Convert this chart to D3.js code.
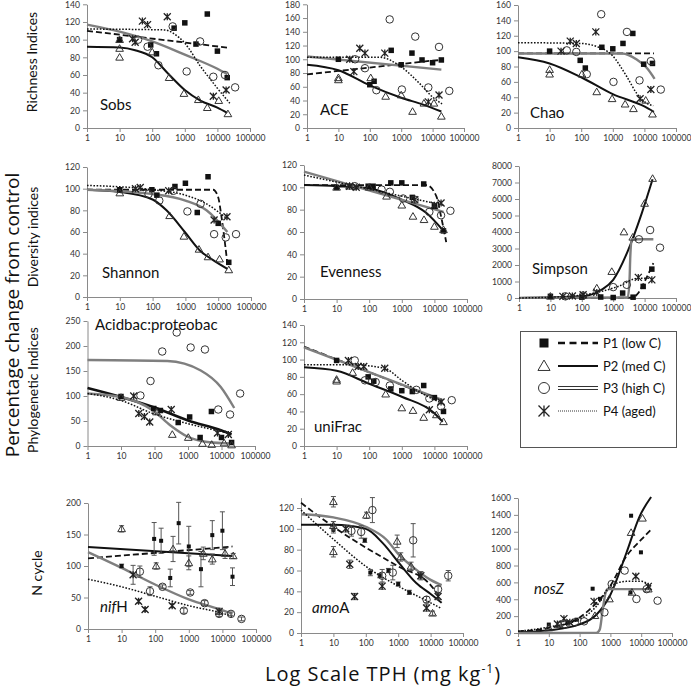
<!DOCTYPE html>
<html><head><meta charset="utf-8">
<script src="https://cdn.jsdelivr.net/npm/d3@7"></script>
<style>body{margin:0;background:#fff}svg{display:block}</style>
</head><body><svg id="c" width="691" height="692"></svg>
<script>
// ---------- shared axis data ----------
const xTicks = [1, 10, 100, 1000, 10000, 100000];
const xTickLabels = ["1", "10", "100", "1000", "10000", "100000"];
const seriesNames = ["P1 (low C)", "P2 (med C)", "P3 (high C)", "P4 (aged)"];
const rowLabels = ["Richness Indices", "Diversity indices", "Phylogenetic Indices", "N cycle"];

// ---------- Sobs ----------
const sobsP1 = [[10,100],[90,94],[135,84],[470,113],[1000,119],[2200,95],[4900,129],[10000,87],[20000,57]];
const sobsP2 = [[10,100],[10,90],[10,80],[100,86],[330,57],[940,39],[2600,32],[4900,23],[11000,31],[21000,16]];
const sobsP3 = [[37,100],[72,92],[155,71],[425,115],[1140,64],[2940,98],[7500,58],[17000,60],[35000,46]];
const sobsP4 = [[25,101],[30,97],[50,121],[72,117],[290,126],[7500,36],[18500,43]];
const sobsF1 = [[1,110],[20000,91]];
const sobsF2 = [[1,92],[10,91],[30,88],[100,80],[300,62],[1000,43],[3000,31],[10000,23],[20000,17]];
const sobsF3 = [[1,117],[10,109],[100,98],[1000,83],[10000,67],[20000,61]];
const sobsF4 = [[1,112],[250,111],[450,107],[1000,96],[3000,70],[10000,45],[24000,28]];

// ---------- ACE ----------
const aceP1 = [[10,100],[100,63],[137,68],[480,113],[1000,92],[2200,109],[4600,99],[10000,95],[19000,99]];
const aceP2 = [[10,73],[10,70],[107,73],[320,46],[1000,48],[2300,24],[5300,36],[11000,36],[19000,17]];
const aceP3 = [[34,100],[70,87],[162,55],[430,158],[1050,56],[2800,133],[7300,59],[16000,118],[34000,54]];
const aceP4 = [[23,100],[31,82],[48,116],[70,109],[300,109],[7300,38],[16000,48]];
const aceF1 = [[1,78],[10,83],[100,88],[1000,93],[10000,98],[20000,99]];
const aceF2 = [[1,92],[10,84],[100,62],[1000,44],[5000,34],[19000,24]];
const aceF3 = [[1,104],[19000,85]];
const aceF4 = [[1,103],[200,103],[1000,89],[3800,65],[10000,45],[20000,35]];

// ---------- Chao ----------
const chaoP1 = [[10,100],[93,88],[135,78],[450,105],[1000,103],[2100,110],[4300,123],[9500,83],[18000,84]];
const chaoP2 = [[10,76],[10,70],[105,70],[310,47],[950,38],[2450,31],[4500,25],[11000,36],[18000,18]];
const chaoP3 = [[35,101],[70,99],[150,70],[430,148],[1050,60],[2800,125],[7000,62],[16000,87],[33000,50]];
const chaoP4 = [[23,100],[45,113],[70,110],[290,125],[7300,38],[16000,50]];
const chaoF1 = [[1,97],[20000,97]];
const chaoF2 = [[1,92],[10,84],[100,66],[1000,44],[10000,28],[20000,21]];
const chaoF3 = [[1,97],[2000,97],[5700,89],[12000,78],[21000,64]];
const chaoF4 = [[1,111],[93,110],[310,106],[930,95],[2760,67],[5700,45],[12000,32],[19000,29]];

// ---------- Shannon ----------
const shanP1 = [[10,99],[95,99],[135,94],[480,102],[1000,105],[2300,78],[4900,111],[10000,68],[21000,32]];
const shanP2 = [[10,96],[330,75],[900,56],[2600,44],[4900,37],[11000,35],[21000,25]];
const shanP3 = [[75,95],[160,89],[430,98],[1150,79],[2900,86],[7500,58],[17000,55],[35000,58]];
const shanP4 = [[30,100],[42,101],[310,98],[7500,71],[18500,74]];
const shanF1 = [[1,99],[7000,99],[10000,92],[12600,74],[19000,31]];
const shanF2 = [[1,99],[10,97],[100,90],[265,80],[960,60],[2750,43],[7000,34],[19000,26]];
const shanF3 = [[1,99],[100,95],[1000,89],[4400,80],[19000,60]];
const shanF4 = [[1,103],[100,99],[1000,94],[4400,86],[19000,72]];

// ---------- Evenness ----------
const evenP1 = [[10,100],[93,101],[132,101],[460,104],[1000,104],[2100,91],[4700,103],[10000,83],[19000,61]];
const evenP2 = [[10,100],[25,101],[100,100],[340,92],[1000,84],[2200,74],[4800,71],[10000,65],[19000,62]];
const evenP3 = [[36,101],[240,98],[430,96],[1100,90],[2500,89],[7000,78],[16000,75],[31000,79]];
const evenP4 = [[25,101],[40,100],[2500,89],[10000,84],[16000,86]];
const evenF1 = [[1,102],[5700,102],[11500,92],[16000,74],[23000,51]];
const evenF2 = [[1,102],[10,101],[100,99],[1000,89],[5700,77],[19000,61]];
const evenF3 = [[1,114],[19000,78]];
const evenF4 = [[1,111],[19000,84]];

// ---------- Simpson ----------
const simpP1 = [[10,100],[100,50],[400,60],[1000,30],[2000,300],[4300,50],[9000,700],[17000,1750]];
const simpP2 = [[10,100],[300,600],[900,1600],[2200,4000],[4200,3680],[10000,5730],[18000,7240]];
const simpP3 = [[30,100],[110,150],[1000,660],[2700,800],[6600,3560],[15000,4120],[31000,3050]];
const simpP4 = [[25,100],[50,120],[110,200],[300,340],[6300,1250],[17000,1100]];
const simpF1 = [[1,0],[3900,20],[6300,300],[10000,1000],[19000,2110]];
const simpF2 = [[1,0],[100,100],[425,500],[1000,1100],[3000,2900],[8000,5100],[18000,7200]];
const simpF3 = [[1,10],[2900,30],[3300,1000],[3500,2500],[3900,3560],[19000,3560]];
const simpF4 = [[1,0],[36,100],[425,400],[1440,700],[6300,1200],[16000,1200]];

// ---------- Acidbac:proteobac ----------
const acidP1 = [[10,99],[95,75],[150,71],[510,47],[1120,58],[2300,17],[5000,69],[10000,17],[20000,7]];
const acidP2 = [[10,97],[115,68],[340,23],[1020,17],[2700,5],[5100,3],[12000,6],[20000,2]];
const acidP3 = [[38,101],[76,130],[170,189],[460,227],[1200,197],[3200,193],[8000,73],[18000,63],[36000,105]];
const acidP4 = [[24,100],[34,65],[50,59],[72,48],[316,73],[7600,26],[16000,23]];
const acidF1 = [[1,116],[10,98],[100,77],[1000,51],[10000,31],[20000,23]];
const acidF2 = [[1,105],[10,98],[90,71],[300,41],[950,19],[3800,8],[20000,5]];
const acidF3 = [[1,172],[240,170],[2400,151],[9500,118],[24000,76]];
const acidF4 = [[1,105],[10,91],[90,65],[950,45],[20000,25]];

// ---------- uniFrac ----------
const uniP1 = [[10,99],[93,80],[138,75],[460,66],[1000,64],[2100,63],[4700,70],[10000,56],[19000,40]];
const uniP2 = [[10,75],[10,77],[31,85],[320,60],[1000,44],[2200,41],[4700,33],[11500,36],[19000,28]];
const uniP3 = [[36,99],[74,76],[158,74],[430,70],[2800,65],[7000,55],[16000,46],[34000,53]];
const uniP4 = [[23,99],[46,92],[68,92],[300,90],[7000,42],[16000,51]];
const uniF1 = [[1,115],[18000,52]];
const uniF2 = [[1,91],[10,87],[100,72],[1000,57],[10000,38],[18000,28]];
const uniF3 = [[1,114],[18000,53]];
const uniF4 = [[1,94],[25,94],[290,90],[1000,76],[2700,65],[18000,49]];

// ---------- nifH (x, value, error) ----------
const nifP1 = [[10,100,3],[93,143,26],[150,140,20],[280,81,14],[500,168,33],[1000,131,32],[2300,95,28],[5000,149,23],[10000,156,30],[20000,83,14]];
const nifP2 = [[10,159,5],[107,100,5],[340,127,20],[1000,105,11],[2700,120,10],[5000,111,8],[12000,120,8],[21000,116,4]];
const nifP3 = [[35,91,9],[70,60,7],[165,67,3],[710,29,4],[1100,58,3],[2950,41,4],[8000,24,4],[18000,24,3],[37000,16,3]];
const nifP4 = [[22,86,15],[32,44,3],[50,31,3],[320,37,3],[8000,28,5]];
const nifF1 = [[1,112],[20000,131]];
const nifF2 = [[1,130],[20000,116]];
const nifF3 = [[1,122],[10,97],[96,71],[1000,47],[9800,30],[20000,24]];
const nifF4 = [[1,79],[10,67],[100,52],[1000,37],[10000,25],[20000,20]];

// ---------- amoA (x, value, error) ----------
const amoP1 = [[10,99,3],[93,89,2],[138,58,3],[270,55,2],[500,60,2],[1000,47,2],[2200,39,2],[4800,55,3]];
const amoP2 = [[10,126,5],[10,103,4],[10,78,5],[105,113,3],[930,88,6],[1200,73,4],[2500,64,4],[11500,19,2]];
const amoP3 = [[36,98,5],[72,97,6],[160,118,12],[320,55,6],[680,58,7],[2900,89,16],[7500,32,3],[17000,42,3],[35000,55,5]];
const amoP4 = [[24,100,3],[32,66,4],[45,35,3],[320,45,3],[5000,55,4],[7500,24,3],[17000,35,3]];
const amoF1 = [[1,125],[10,102],[100,82],[1000,64],[10000,46],[20000,33]];
const amoF2 = [[1,104],[10,104],[100,100],[340,86],[1070,67],[3600,48],[10500,37],[22000,29]];
const amoF3 = [[1,114],[10,111],[100,102],[420,90],[1000,76],[3200,62],[10000,51],[22000,46]];
const amoF4 = [[1,118],[10,90],[100,64],[1000,45],[10000,29],[20000,24]];

// ---------- nosZ ----------
const nosP1 = [[10,100],[40,126],[80,158],[265,525],[460,405],[4500,480],[4700,1390],[9800,956]];
const nosP2 = [[10,60],[22,100],[315,205],[930,403],[5000,482],[4700,1190],[11000,1360],[17000,520]];
const nosP3 = [[33,100],[70,126],[140,138],[640,245],[1100,580],[2900,740],[7000,403],[15000,520],[34000,383]];
const nosP4 = [[19,107],[31,170],[48,126],[295,375],[6700,672],[17000,553]];
const nosF1 = [[1,20],[10,60],[95,178],[350,356],[1000,560],[3300,909],[10000,1106],[21000,1225]];
const nosF2 = [[1,8],[10,32],[95,99],[350,217],[1000,454],[3300,948],[8900,1383],[21000,1612]];
const nosF3 = [[1,0],[350,2],[450,40],[550,250],[700,480],[800,520],[21000,520]];
const nosF4 = [[1,20],[10,71],[95,158],[350,316],[1000,553],[3300,612],[10000,612],[21000,553]];

// ---------- layout ----------
const panels = [
  {label:"Sobs", pts:[sobsP1,sobsP2,sobsP3,sobsP4], fits:[sobsF1,sobsF2,sobsF3,sobsF4], max:140, step:20, x0:87, x1:250, py0:128, pyMax:4.3, lx:100, ly:110},
  {label:"ACE", pts:[aceP1,aceP2,aceP3,aceP4], fits:[aceF1,aceF2,aceF3,aceF4], max:180, step:20, x0:307, x1:464, py0:128, pyMax:4.3, lx:320, ly:115},
  {label:"Chao", pts:[chaoP1,chaoP2,chaoP3,chaoP4], fits:[chaoF1,chaoF2,chaoF3,chaoF4], max:160, step:20, x0:518, x1:676, py0:128, pyMax:5, lx:530, ly:118},
  {label:"Shannon", pts:[shanP1,shanP2,shanP3,shanP4], fits:[shanF1,shanF2,shanF3,shanF4], max:120, step:20, x0:87, x1:251, py0:297, pyMax:167, lx:102, ly:278},
  {label:"Evenness", pts:[evenP1,evenP2,evenP3,evenP4], fits:[evenF1,evenF2,evenF3,evenF4], max:120, step:20, x0:304, x1:467, py0:299, pyMax:165, lx:320, ly:277},
  {label:"Simpson", pts:[simpP1,simpP2,simpP3,simpP4], fits:[simpF1,simpF2,simpF3,simpF4], max:8000, step:1000, x0:519, x1:676, py0:298, pyMax:166, lx:532, ly:274},
  {label:"Acidbac:proteobac", pts:[acidP1,acidP2,acidP3,acidP4], fits:[acidF1,acidF2,acidF3,acidF4], max:250, step:50, x0:87.5, x1:255, py0:446, pyMax:321, lx:95, ly:330, fitStyle:{0:"solidThick",1:"gray"}},
  {label:"uniFrac", pts:[uniP1,uniP2,uniP3,uniP4], fits:[uniF1,uniF2,uniF3,uniF4], max:140, step:20, x0:304, x1:467, py0:446, pyMax:325, lx:314, ly:432},
  {label:"nifH", italic:"nif", rest:"H", pts:[nifP1,nifP2,nifP3,nifP4], fits:[nifF1,nifF2,nifF3,nifF4], max:200, step:50, x0:88, x1:256, py0:629, pyMax:503, lx:100, ly:612, err:true, small:true},
  {label:"amoA", italic:"amo", rest:"A", pts:[amoP1,amoP2,amoP3,amoP4], fits:[amoF1,amoF2,amoF3,amoF4], max:120, top:130, step:20, x0:301, x1:463, py0:633, pyMax:508, lx:312, ly:613, err:true, small:true},
  {label:"nosZ", italic:"nosZ", rest:"", pts:[nosP1,nosP2,nosP3,nosP4], fits:[nosF1,nosF2,nosF3,nosF4], max:1600, step:200, x0:518, x1:672, py0:633, pyMax:498, lx:534, ly:594, small:true}
];

const svg = d3.select("#c");
const FONT = "Lato, 'Open Sans', sans-serif";
const AX = "#8a8a8a";

function marker(g, type, cx, cy, s) {
  if (type === 0) {
    g.append("rect").attr("x", cx - s/2).attr("y", cy - s/2).attr("width", s).attr("height", s).attr("fill", "#111");
  } else if (type === 1) {
    const h = s * 0.9;
    g.append("path").attr("d", `M${cx},${cy - h*0.6}L${cx + s*0.55},${cy + h*0.45}L${cx - s*0.55},${cy + h*0.45}Z`)
      .attr("fill", "none").attr("stroke", "#333").attr("stroke-width", 1);
  } else if (type === 2) {
    g.append("circle").attr("cx", cx).attr("cy", cy).attr("r", s/2).attr("fill", "none").attr("stroke", "#333").attr("stroke-width", 1);
  } else {
    const r = s/2;
    g.append("path").attr("d", `M${cx-r},${cy-r}L${cx+r},${cy+r}M${cx-r},${cy+r}L${cx+r},${cy-r}M${cx},${cy-r}L${cx},${cy+r}`)
      .attr("stroke", "#222").attr("stroke-width", 1.3).attr("fill", "none");
  }
}

function fitStyle(path, kind) {
  if (kind === "dash") path.attr("stroke", "#111").attr("stroke-width", 1.8).attr("stroke-dasharray", "6,3");
  else if (kind === "solid") path.attr("stroke", "#111").attr("stroke-width", 2);
  else if (kind === "solidThick") path.attr("stroke", "#111").attr("stroke-width", 2.6);
  else if (kind === "gray") path.attr("stroke", "#7f7f7f").attr("stroke-width", 2.4);
  else if (kind === "dot") path.attr("stroke", "#111").attr("stroke-width", 1.5).attr("stroke-dasharray", "1.6,1.6");
}
const defaultKinds = ["dash", "solid", "gray", "dot"];

panels.forEach(p => {
  const top = p.top || p.max;
  const x = d3.scaleLog().domain([1, 100000]).range([p.x0, p.x1]);
  const yBase = d3.scaleLinear().domain([0, p.max]).range([p.py0, p.pyMax]);
  const y = d3.scaleLinear().domain([0, top]).range([p.py0, yBase(top)]);
  const g = svg.append("g");

  const yTicks = d3.range(0, p.max + p.step/2, p.step);
  const ya = g.append("g").attr("transform", `translate(${p.x0},0)`)
    .call(d3.axisLeft(y).tickValues(yTicks).tickSize(4).tickSizeOuter(0).tickPadding(3).tickFormat(d3.format("d")));
  const xa = g.append("g").attr("transform", `translate(0,${p.py0})`)
    .call(d3.axisBottom(x).tickValues(xTicks).tickSize(4).tickSizeOuter(0).tickPadding(3).tickFormat((d, i) => xTickLabels[i]));
  [ya, xa].forEach(a => {
    a.selectAll("path.domain").attr("stroke", AX).attr("stroke-width", 1);
    a.selectAll(".tick line").attr("stroke", AX);
    a.selectAll("text").attr("font-family", FONT).attr("font-size", 8.6).attr("fill", "#333");
  });

  const line = d3.line().x(d => x(d[0])).y(d => y(d[1])).curve(d3.curveMonotoneX);
  p.fits.forEach((f, i) => {
    const kind = (p.fitStyle && p.fitStyle[i]) || defaultKinds[i];
    const path = g.append("path").datum(f).attr("d", line).attr("fill", "none");
    fitStyle(path, kind);
  });

  p.pts.forEach((arr, t) => {
    arr.forEach(d => {
      const cx = x(d[0]), cy = y(d[1]);
      if (p.err && d[2]) {
        const e1 = y(d[1] + d[2]), e2 = y(d[1] - d[2]);
        g.append("path").attr("d", `M${cx},${e1}L${cx},${e2}M${cx-2.5},${e1}L${cx+2.5},${e1}M${cx-2.5},${e2}L${cx+2.5},${e2}`)
          .attr("stroke", "#555").attr("stroke-width", 1).attr("fill", "none");
      }
      const s = t === 0 ? (p.small ? 4 : 5.5) : (t === 2 ? 7.5 : 7);
      marker(g, t, cx, cy, s);
    });
  });

  const lt = g.append("text").attr("x", p.lx).attr("y", p.ly).attr("font-family", FONT).attr("font-size", 15).attr("fill", "#111");
  if (p.italic !== undefined) {
    lt.append("tspan").attr("font-style", "italic").text(p.italic);
    if (p.rest) lt.append("tspan").text(p.rest);
  } else lt.text(p.label);
});

// ---------- row labels ----------
const rowPos = [[37, 62], [38, 237], [38, 390], [42, 573]];
rowLabels.forEach((t, i) => {
  svg.append("text").attr("transform", `translate(${rowPos[i][0]},${rowPos[i][1]}) rotate(-90)`)
    .attr("text-anchor", "middle").attr("font-family", FONT).attr("font-size", 14).attr("fill", "#111").text(t);
});

// ---------- main axis titles ----------
svg.append("text").attr("transform", "translate(19,315) rotate(-90)").attr("text-anchor", "middle")
  .attr("font-family", "'Open Sans', sans-serif").attr("font-size", 19).attr("fill", "#111").text("Percentage change from control");
const xt = svg.append("text").attr("x", 383).attr("y", 681).attr("text-anchor", "middle")
  .attr("font-family", "'Open Sans', sans-serif").attr("font-size", 20).attr("fill", "#111").attr("letter-spacing", 1);
xt.append("tspan").text("Log Scale TPH (mg kg");
xt.append("tspan").attr("font-size", 12).attr("dy", -8).text("-1");
xt.append("tspan").attr("dy", 8).text(")");

// ---------- legend ----------
const lg = svg.append("g");
lg.append("rect").attr("x", 520.5).attr("y", 331.5).attr("width", 156).attr("height", 116).attr("fill", "#fff").attr("stroke", "#555");
const legY = [343, 366, 388, 411];
seriesNames.forEach((n, i) => {
  const yy = legY[i];
  marker(lg, i, 544, yy, i === 0 ? 9 : 11);
  if (i === 0) lg.append("line").attr("x1", 558).attr("x2", 598).attr("y1", yy).attr("y2", yy).attr("stroke", "#111").attr("stroke-width", 2.5).attr("stroke-dasharray", "7,4.5");
  if (i === 1) lg.append("line").attr("x1", 558).attr("x2", 598).attr("y1", yy).attr("y2", yy).attr("stroke", "#111").attr("stroke-width", 2);
  if (i === 2) [yy - 1.5, yy + 1.5].forEach(v => lg.append("line").attr("x1", 558).attr("x2", 598).attr("y1", v).attr("y2", v).attr("stroke", "#333").attr("stroke-width", 1));
  if (i === 3) lg.append("line").attr("x1", 558).attr("x2", 598).attr("y1", yy).attr("y2", yy).attr("stroke", "#333").attr("stroke-width", 1).attr("stroke-dasharray", "1,1");
  lg.append("text").attr("x", 603).attr("y", yy + 4.5).attr("font-family", FONT).attr("font-size", 13).attr("fill", "#111").text(n);
});
</script></body></html>
